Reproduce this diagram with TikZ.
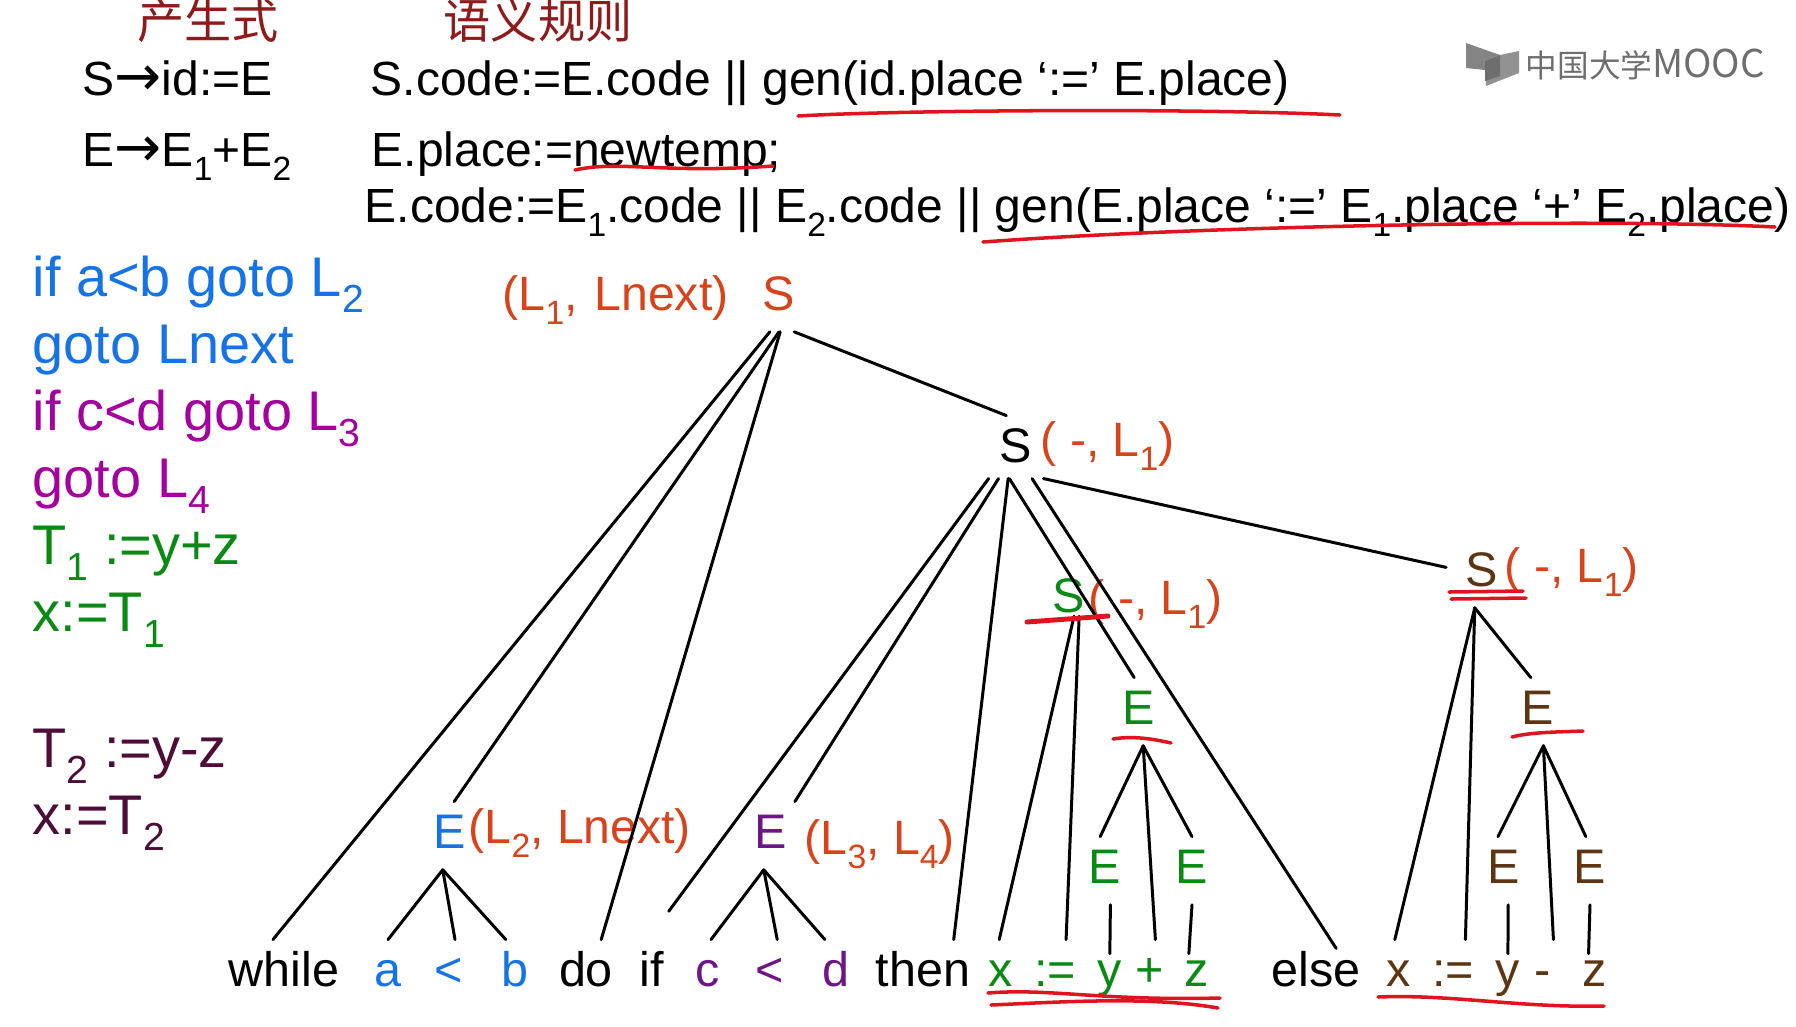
\documentclass[tikz,border=0pt]{standalone}
\usepackage{fontspec}
\setmainfont{Liberation Sans}
\newfontfamily\cjk{Noto Sans CJK SC}
\newfontfamily\arrowfont{DejaVu Sans}
\usepackage{tikz}
\definecolor{headred}{HTML}{8E1B1B}
\definecolor{attrred}{HTML}{D8431C}
\definecolor{inkred}{HTML}{E0141E}
\definecolor{codeblue}{HTML}{1673E6}
\definecolor{codepurple}{HTML}{A4009E}
\definecolor{codegreen}{HTML}{0A8A14}
\definecolor{codemaroon}{HTML}{4E0C38}
\definecolor{treepurple}{HTML}{6E1587}
\definecolor{treebrown}{HTML}{5E3512}
\definecolor{moocgray}{HTML}{6E6E6E}
\newcommand{\lowidx}[1]{\raisebox{-0.3em}{\scalebox{0.7}{#1}}}
\newcommand{\derives}{{\arrowfont\fontsize{16}{16}\selectfont →}}
\tikzset{
  rule/.style={anchor=base west,inner sep=0pt,font=\fontsize{13.65}{16}\selectfont},
  head/.style={anchor=base,inner sep=0pt,text=headred,font=\cjk\fontsize{13.4}{15}\selectfont},
  code/.style={anchor=base west,inner sep=0pt,font=\fontsize{15.9}{18}\selectfont},
  attr/.style={anchor=base west,inner sep=0pt,text=attrred,font=\fontsize{13.7}{16}\selectfont},
  sym/.style={anchor=base,text height=10pt,text depth=3pt,inner ysep=3pt,inner xsep=0pt,minimum width=20pt,font=\fontsize{13.8}{16}\selectfont},
  leaf/.style={sym,minimum width=16pt},
  branch/.style={line width=0.85pt,line cap=round},
  ink/.style={inkred,line width=1pt,line cap=round}
}
\begin{document}
\begin{tikzpicture}[x=0.01cm,y=-0.01cm]
\useasboundingbox (0,2) rectangle (1796,1028);
\node[head] (prodhead) at (208,40) {产生式};
\node[head] (rulehead) at (538,40) {语义规则};
\node[rule] (prodS) at (82,97) {S\derives id:=E};
\node[rule] (ruleS) at (370,97) {S.code:=E.code || gen(id.place ‘:=’ E.place)};
\node[rule] (prodE) at (82,168) {E\derives E\lowidx{1}+E\lowidx{2}};
\node[rule] (ruleEa) at (371,168) {E.place:=newtemp;};
\node[rule] (ruleEb) at (364,224) {E.code:=E\lowidx{1}.code || E\lowidx{2}.code || gen(E.place ‘:=’ E\lowidx{1}.place ‘+’ E\lowidx{2}.place)};
\node[code,text=codeblue] (codea) at (32,298) {if a<b goto L\lowidx{2}};
\node[code,text=codeblue] (codeb) at (32,365) {goto Lnext};
\node[code,text=codepurple] (codec) at (32,432) {if c<d goto L\lowidx{3}};
\node[code,text=codepurple] (coded) at (32,499) {goto L\lowidx{4}};
\node[code,text=codegreen] (codee) at (32,566) {T\lowidx{1} :=y+z};
\node[code,text=codegreen] (codef) at (32,633) {x:=T\lowidx{1}};
\node[code,text=codemaroon] (codeg) at (32,769) {T\lowidx{2} :=y-z};
\node[code,text=codemaroon] (codeh) at (32,836) {x:=T\lowidx{2}};
\node[attr] (attrroot) at (502,312) {(L\lowidx{1}, \kern1pt Lnext)};
\node[sym,text=attrred] (root) at (779,312) {S};
\node[sym,text depth=1.5pt] (stmt) at (1016,464) {S};
\node[attr] (attrstmt) at (1040,458) {( -, L\lowidx{1})};
\node[sym,text=codegreen,text height=10pt,text depth=0pt,inner ysep=1pt] (thenS) at (1069,614) {S};
\node[attr] (attrthen) at (1088,616) {( -, L\lowidx{1})};
\node[sym,text=treebrown] (elseS) at (1482,588) {S};
\node[attr] (attrelse) at (1504,584) {( -, L\lowidx{1})};
\node[sym,text=codeblue] (condA) at (450,850) {E};
\node[attr] (attrA) at (468,845) {(L\lowidx{2}, Lnext)};
\node[sym,text=treepurple] (condB) at (771,850) {E};
\node[attr] (attrB) at (804,856) {(L\lowidx{3}, L\lowidx{4})};
\node[sym,text=codegreen] (addE) at (1139,726) {E};
\node[sym,text=codegreen] (addL) at (1105,885) {E};
\node[sym,text=codegreen] (addR) at (1192,885) {E};
\node[sym,text=treebrown] (subE) at (1538,726) {E};
\node[sym,text=treebrown] (subL) at (1504,885) {E};
\node[sym,text=treebrown] (subR) at (1590,885) {E};
\node[leaf] (while) at (284,988) {while};
\node[leaf,text=codeblue] (la) at (388,988) {a};
\node[leaf,text=codeblue] (lless) at (449,988) {<};
\node[leaf,text=codeblue] (lb) at (515,988) {b};
\node[leaf] (do) at (586,988) {do};
\node[leaf] (nif) at (652,988) {if};
\node[leaf,text=treepurple] (lc) at (708,988) {c};
\node[leaf,text=treepurple] (lnext) at (770,988) {<};
\node[leaf,text=treepurple] (ld) at (836,988) {d};
\node[leaf] (nthen) at (923,988) {then};
\node[leaf,text=codegreen] (xa) at (1001,988) {x};
\node[leaf,text=codegreen] (asga) at (1055,988) {:=};
\node[leaf,text=codegreen] (ya) at (1110,988) {y};
\node[leaf,text=codegreen] (plus) at (1150,988) {+};
\node[leaf,text=codegreen] (za) at (1197,988) {z};
\node[leaf] (nelse) at (1316,988) {else};
\node[leaf,text=treebrown] (xb) at (1399,988) {x};
\node[leaf,text=treebrown] (asgb) at (1453,988) {:=};
\node[leaf,text=treebrown] (yb) at (1508,988) {y};
\node[leaf,text=treebrown] (minus) at (1543,988) {-};
\node[leaf,text=treebrown] (zb) at (1595,988) {z};
\draw[branch] (root.-105) -- (while.108);
\draw[branch] (root.-90) -- (condA.83);
\draw[branch] (root.-88) -- (do.66);
\draw[branch] (root.-66) -- (stmt.107);
\draw[branch,shorten >=10pt] (stmt.-131) -- (nif.97);
\draw[branch] (stmt.-119) -- (condB.55);
\draw[branch] (stmt.-104) -- (nthen.48);
\draw[branch] (stmt.-102) -- (addE.98);
\draw[branch,shorten >=-3pt] (stmt.-63) -- (nelse.67);
\draw[branch] (stmt.-49) -- (elseS.170);
\draw[branch] (thenS.-77) -- (xa.93);
\draw[branch] (thenS.-65) -- (asga.72);
\draw[branch] (condA.-102) -- (la.north);
\draw[branch] (condA.-102) -- (lless.80);
\draw[branch] (condA.-102) -- (lb.105);
\draw[branch] (condB.-102) -- (lc.85);
\draw[branch] (condB.-102) -- (lnext.78);
\draw[branch] (condB.-102) -- (ld.108);
\draw[branch] (addE.-83) -- (addL.98);
\draw[branch] (addE.-83) -- (plus.81);
\draw[branch] (addE.-83) -- (addR.north);
\draw[branch,shorten >=-4pt] (addL.-81) -- (ya.north);
\draw[branch,shorten >=-4pt] (addR.south) -- (za.102);
\draw[branch] (elseS.-102) -- (xb.97);
\draw[branch] (elseS.-102) -- (asgb.70);
\draw[branch] (elseS.-102) -- (subE.102);
\draw[branch] (subE.-81) -- (subL.100);
\draw[branch] (subE.-81) -- (minus.73);
\draw[branch] (subE.-81) -- (subR.97);
\draw[branch,shorten >=-4pt] (subL.-83) -- (yb.north);
\draw[branch,shorten >=-4pt] (subR.south) -- (zb.100);
\draw[ink] (798,118) .. controls (900,112) and (1200,110) .. (1340,117);
\draw[ink] (575,172) .. controls (620,162) and (660,176) .. (773,168);
\draw[ink] (983,244) .. controls (1200,228) and (1600,220) .. (1775,229);
\draw[ink,line width=1.4pt] (1027,624) -- (1108,618);
\draw[ink] (1449,594) -- (1523,593);
\draw[ink] (1451,601) -- (1526,600);
\draw[ink] (1113,741) .. controls (1130,738) and (1150,740) .. (1171,745);
\draw[ink] (1512,739) .. controls (1530,734) and (1560,734) .. (1583,733);
\draw[ink] (988,995) .. controls (1050,990) and (1100,1003) .. (1220,1000);
\draw[ink] (991,1007) .. controls (1060,1004) and (1150,998) .. (1218,1010);
\draw[ink] (1378,999) .. controls (1450,996) and (1520,1010) .. (1604,1008);
\fill[moocgray!85] (1466,45) -- (1500,57) -- (1485,63) -- (1485,72) -- (1466,70) -- cycle;
\fill[moocgray!75] (1500,57) -- (1519,53) -- (1519,75) -- (1486,88) -- (1485,63) -- cycle;
\fill[moocgray] (1485,63) -- (1500,57) -- (1500,78) -- (1485,83) -- cycle;
\node[anchor=base west,inner sep=0pt,text=moocgray,font=\cjk\fontsize{9}{11}\selectfont] (mooc) at (1525,79) {中国大学{\fontsize{10.9}{11}\selectfont MOOC}};
\end{tikzpicture}
\end{document}
